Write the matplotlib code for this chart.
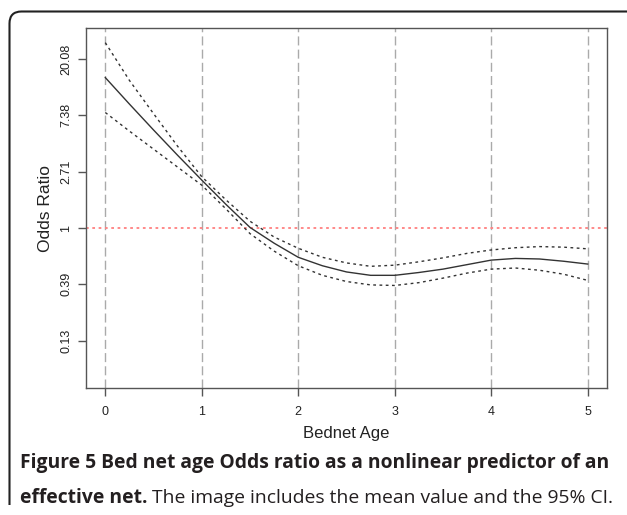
import matplotlib.pyplot as plt
import numpy as np
from matplotlib.path import Path
from matplotlib.patches import PathPatch

# Bednet age (years) and log odds ratio
age = [0, 0.25, 0.5, 0.75, 1, 1.25, 1.5, 1.75, 2, 2.25, 2.5,
       2.75, 3, 3.25, 3.5, 3.75, 4, 4.25, 4.5, 4.75, 5]
log_or_mean = [2.67, 2.20, 1.74, 1.29, 0.85, 0.42, 0.01, -0.27, -0.52, -0.67, -0.78,
               -0.84, -0.84, -0.79, -0.73, -0.65, -0.57, -0.54, -0.55, -0.59, -0.64]
log_or_upper = [3.29, 2.62, 2.03, 1.45, 0.91, 0.50, 0.12, -0.16, -0.36, -0.52, -0.62,
                -0.68, -0.66, -0.60, -0.53, -0.45, -0.39, -0.35, -0.33, -0.34, -0.37]
log_or_lower = [2.05, 1.72, 1.40, 1.08, 0.76, 0.34, -0.10, -0.41, -0.67, -0.84, -0.95,
                -1.01, -1.02, -0.97, -0.89, -0.80, -0.73, -0.71, -0.75, -0.82, -0.93]

xticks = [0, 1, 2, 3, 4, 5]
ytick_pos = [-2, -1, 0, 1, 2, 3]
ytick_labels = ['0.13', '0.39', '1', '2.71', '7.38', '20.08']

W, H = 627, 515
fig = plt.figure(figsize=(W / 100, H / 100), dpi=100)
plt.rcParams['font.family'] = ['Liberation Sans', 'DejaVu Sans']

# rounded frame around the figure panel
bg = fig.add_axes([0, 0, 1, 1], zorder=-1)
bg.set_xlim(0, W)
bg.set_ylim(H, 0)
bg.axis('off')
r = 12
verts = [(9.5, 505), (9.5, 11.5 + r), (9.5, 11.5), (9.5 + r, 11.5), (640, 11.5)]
codes = [Path.MOVETO, Path.LINETO, Path.CURVE3, Path.CURVE3, Path.LINETO]
bg.add_patch(PathPatch(Path(verts, codes), fill=False, lw=1.5, ec='#222222'))

ax = fig.add_axes([86 / W, 1 - 388 / H, (607 - 86) / W, (388 - 28) / H])
grey = '#555555'

for x in xticks:
    ax.axvline(x, color='#aaaaaa', lw=1, dashes=(6.5, 3), zorder=1)
ax.axhline(0, color='#ff8080', lw=1.3, dashes=(1.5, 2), zorder=1)

ax.plot(age, log_or_mean, color='#333333', lw=1, zorder=3)
ax.plot(age, log_or_upper, color='#333333', lw=1, dashes=(2, 2.5), zorder=3)
ax.plot(age, log_or_lower, color='#333333', lw=1, dashes=(2, 2.5), zorder=3)

ax.set_xlim(-0.2, 5.2)
ax.set_ylim(-2.84, 3.55)
ax.set_xticks(xticks)
ax.set_yticks(ytick_pos)
ax.set_yticklabels(ytick_labels, rotation=90, va='center')
ax.tick_params(length=6, width=1, color=grey, labelsize=9, labelcolor='#222222', pad=7)
ax.tick_params(axis='y', pad=4)
for s in ax.spines.values():
    s.set_color(grey)
    s.set_linewidth(1)

ax.set_xlabel('Bednet Age', fontsize=12, color='#222222', labelpad=6)
ax.set_ylabel('Odds Ratio', fontsize=12.5, color='#222222', labelpad=5)

# caption
cap_kw = dict(family=['Open Sans', 'DejaVu Sans'], fontsize=13.9, color='#231f20')
fig.text(20 / W, 1 - 468 / H, 'Figure 5 Bed net age Odds ratio as a nonlinear predictor of an',
         weight='bold', va='baseline', **cap_kw)
t1 = fig.text(20 / W, 1 - 503 / H, 'effective net.', weight='bold', va='baseline', **cap_kw)
fig.canvas.draw()
x1 = t1.get_window_extent().x1
fig.text((x1 + 4) / W, 1 - 503 / H, 'The image includes the mean value and the 95% CI.',
         va='baseline', **cap_kw)

fig.savefig('out.png', dpi=100)
